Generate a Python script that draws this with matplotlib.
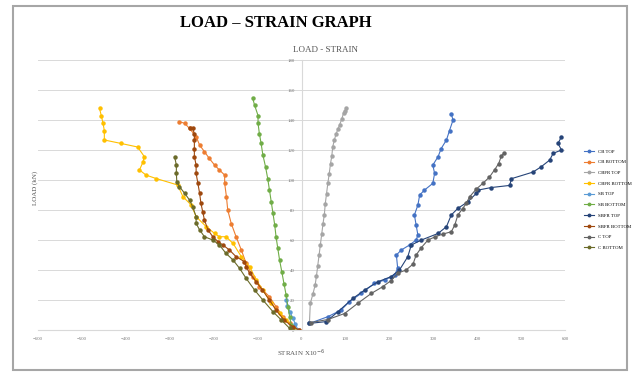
import matplotlib
matplotlib.use("Agg")
import matplotlib.pyplot as plt
from matplotlib.patches import Rectangle

plt.rcParams['font.family'] = ['Liberation Serif', 'DejaVu Serif']

# strain (x10^-6) and load (kN)
s1_x = [18, 60, 90, 109, 136, 166, 189, 212, 219, 216, 227, 246, 261, 265, 261, 257,
        265, 269, 280, 299, 303, 299, 311, 318, 330, 337, 345, 341]
s1_y = [4.4, 8.9, 13.3, 18.9, 24.4, 31.1, 33.3, 36.7, 41.1, 50, 53.3, 56.7, 60, 63.3, 70, 76.7,
        83.3, 90, 93.3, 97.8, 104.4, 110, 115.6, 121, 126.7, 133, 140, 144]

s2_x = [-5, -27, -42, -58, -73, -96, -111, -126, -137, -149, -160, -168, -171, -175, -175,
        -187, -198, -210, -221, -232, -240, -255, -266, -278]
s2_y = [0, 4.4, 8.9, 15.6, 22.2, 28.9, 35.6, 44.4, 53.3, 62.2, 71, 80, 88.9, 97.8, 103.3,
        106.7, 110, 114.4, 118.9, 123.3, 128.9, 134.4, 137.8, 138.9]

s3_x = [18, 20, 26, 31, 34, 37, 40, 43, 46, 49, 52, 54, 57, 60, 63, 66, 69, 71, 75, 79,
        83, 87, 92, 96, 99, 102]
s3_y = [4.4, 17.8, 24, 30, 36, 43, 50, 57, 64, 71, 77, 84, 91, 98, 104, 111, 116, 122, 127, 131,
        134, 137, 141, 145, 146, 148]

s4_x = [-10, -20, -35, -50, -69, -88, -103, -118, -137, -156, -172, -187, -198, -217, -240,
        -251, -270, -282, -331, -354, -369, -361, -358, -373, -411, -449, -449, -452, -456, -460]
s4_y = [0, 2.2, 6.7, 11.1, 17.8, 26.7, 33.3, 42.2, 48.9, 57.8, 62.2, 62.2, 64.4, 68.9, 75.6,
        83.3, 88.9, 96.7, 101, 103.3, 106.7, 112, 115.6, 122, 124.4, 126.7, 133, 137.8, 143, 147.8]

s5_x = [-8, -14, -20, -26, -32, -35]
s5_y = [0, 4, 8, 12, 16, 20]

s6_x = [-20, -23.5, -27, -31, -35, -40, -45, -50, -54, -58, -61, -65, -69, -73, -77, -82,
        -88, -92, -96, -99, -99, -107, -111]
s6_y = [0, 3.3, 8.9, 15.6, 23.3, 31, 39, 46.7, 54.4, 62.2, 70, 77.8, 85.6, 93.3, 101, 108.9,
        116.7, 124.4, 131, 137.8, 143, 150, 154.4]

s7_x = [18, 56, 83, 117, 144, 174, 204, 223, 242, 250, 273, 311, 330, 341, 356, 379, 398,
        402, 432, 474, 478, 527, 546, 565, 573, 592, 584, 592]
s7_y = [4.4, 5.6, 12.2, 21.1, 26.7, 32.2, 35.6, 40, 48.9, 56.7, 60, 64.4, 68.9, 76.7, 81.1,
        85.6, 91.1, 93.3, 95, 96.4, 100.9, 105.3, 108.9, 113.3, 117.8, 120, 124.4, 128.9]

s8_x = [-5, -20, -40, -58, -73, -89, -103, -118, -126, -130, -149, -164, -179, -190, -202,
        -213, -221, -225, -229, -232, -236, -240, -240, -244, -244, -244, -244, -248, -255]
s8_y = [0, 2.2, 6.7, 13.3, 20, 26.7, 32.2, 37.8, 42.2, 45.6, 48.9, 53.3, 56.7, 58.9, 62.2,
        66.7, 73.3, 78.9, 84.4, 91.1, 97.8, 104.4, 110, 115.6, 121, 126.7, 131, 134.4, 135]

s9_x = [22, 60, 98, 128, 159, 185, 204, 220, 238, 254, 261, 273, 288, 303, 322, 341, 349,
        356, 367, 375, 383, 398, 413, 428, 440, 449, 455, 461]
s9_y = [5, 7, 11, 17.8, 24.4, 28.9, 33, 38, 40, 44, 50, 55, 60, 62, 64, 65.5, 70,
        76.7, 81, 84.4, 88.9, 94, 97.8, 102, 107, 111, 116, 118]

s10_x = [-27, -46, -65, -88, -107, -126, -141, -156, -172, -187, -202, -221, -232, -240,
         -240, -248, -255, -266, -278, -284, -285, -285, -289]
s10_y = [1.1, 6.7, 12.2, 20, 26.7, 34.4, 41.1, 46.7, 51.1, 56.7, 60, 62.2, 66.7, 71.1,
         75.6, 82.2, 86.7, 91.1, 95.6, 98.9, 104.4, 110, 115.6]

labels = ["CB TOP", "CB BOTTOM", "CBFR TOP", "CBFR BOTTOM", "SB TOP",
          "SB BOTTOM", "SBFR TOP", "SBFR BOTTOM", "C TOP", "C BOTTOM"]
colors = ["#4472C4", "#ED7D31", "#A5A5A5", "#FFC000", "#5B9BD5",
          "#70AD47", "#264478", "#9E480E", "#636363", "#6b6b2a"]
series = [(s1_x, s1_y), (s2_x, s2_y), (s3_x, s3_y), (s4_x, s4_y), (s5_x, s5_y),
          (s6_x, s6_y), (s7_x, s7_y), (s8_x, s8_y), (s9_x, s9_y), (s10_x, s10_y)]

fig = plt.figure(figsize=(6.38, 3.76), dpi=100)
ax = fig.add_axes([0.0596, 0.1223, 0.826, 0.718])

for (x, y), lab, c in zip(series, labels, colors):
    ax.plot(x, y, color=c, lw=0.8, marker='o', ms=2.2, label=lab)

ax.set_xlim(-600, 600)
ax.set_ylim(0, 180)
ax.set_xticks(range(-600, 601, 100))
ax.set_yticks(range(0, 181, 20))
ax.grid(axis='y', color='#d9d9d9', lw=0.7)
ax.set_axisbelow(True)
for sp in ['top', 'right']:
    ax.spines[sp].set_visible(False)
ax.spines['left'].set_position(('data', 0))
ax.spines['left'].set_color('#d9d9d9')
ax.spines['bottom'].set_color('#d9d9d9')
ax.tick_params(length=0, labelsize=3.5, labelcolor='#777777', pad=5)

ax.set_xlabel("STRAIN X10$^{-6}$", fontsize=5, color='#555555', labelpad=5)
fig.text(0.055, 0.5, "LOAD (kN)", rotation=90, fontsize=5, color='#555555',
         ha='center', va='center')

fig.text(0.433, 0.938, "LOAD – STRAIN GRAPH", fontsize=12, fontweight='bold',
         ha='center', va='center')
fig.text(0.51, 0.867, "LOAD - STRAIN", fontsize=6.5, color='#555555',
         ha='center', va='center')

fig.legend(loc='upper left', bbox_to_anchor=(0.908, 0.615), fontsize=3.5,
           frameon=False, labelspacing=1.3, handlelength=2.2, markerscale=0.8)

fig.patches.append(Rectangle((13 / 638, 6 / 376), 614 / 638, 364 / 376,
                             transform=fig.transFigure, fill=False,
                             edgecolor='#a6a6a6', lw=1.5))

fig.savefig("out.png", dpi=100)
